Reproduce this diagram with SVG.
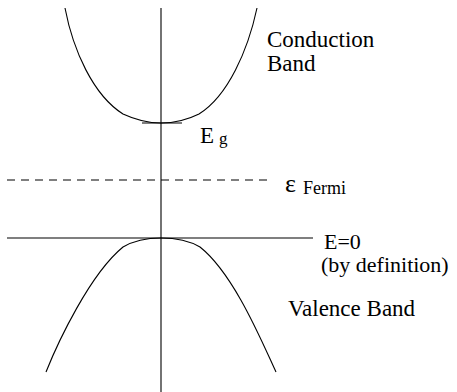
<svg xmlns="http://www.w3.org/2000/svg" width="457" height="392" viewBox="0 0 457 392">
<style>
.ln{fill:none;stroke:#000;stroke-width:1.1}
text{font-family:'Liberation Serif','Times New Roman',Times,'DejaVu Serif',serif;fill:#000}
</style>
<rect width="457" height="392" fill="#fff"/>
<g id="connectors">
<line class="ln" x1="161" y1="8" x2="161" y2="392"/>
<line class="ln" x1="7" y1="238" x2="313" y2="238"/>
<line class="ln" x1="7" y1="180" x2="268" y2="180" stroke-dasharray="8 6"/>
<line class="ln" x1="142" y1="123" x2="182" y2="123"/>
</g>
<g id="conduction-band">
<path class="ln" d="M65,8 C73,50 93,95 123,114 C138,121 150,123 161,123 C172,123 185,121 199,114 C228,96 248,50 257,8"/>
<text x="267" y="47" font-size="23">Conduction</text>
<text x="267" y="71" font-size="23">Band</text>
</g>
<g id="valence-band">
<path class="ln" d="M46,372 C58,342 90,274 123,247 C135,240 150,238 161,238 C172,238 188,240 200,247 C234,274 262,342 276,372"/>
<text x="288" y="316" font-size="23">Valence Band</text>
</g>
<g id="gap-label">
<text x="200" y="143" font-size="23">E</text>
<text x="219" y="144" font-size="17">g</text>
</g>
<g id="fermi-label">
<text x="285" y="192" font-size="26">ε</text>
<text x="303" y="194" font-size="18">Fermi</text>
</g>
<g id="zero-label">
<text x="324" y="249" font-size="22">E=0</text>
<text x="321" y="272" font-size="22">(by definition)</text>
</g>
</svg>
